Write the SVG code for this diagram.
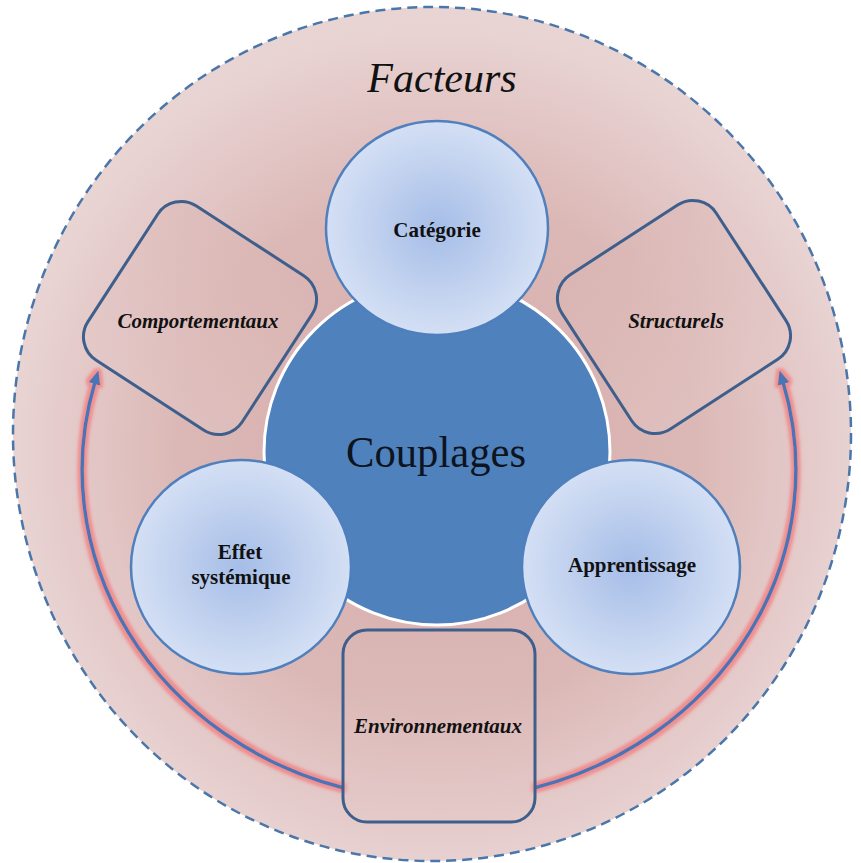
<svg xmlns="http://www.w3.org/2000/svg" width="861" height="863" viewBox="0 0 861 863">
<defs>
<radialGradient id="bg" gradientUnits="userSpaceOnUse" cx="437" cy="452" r="430">
<stop offset="0" stop-color="#d5acaa"/>
<stop offset="0.6" stop-color="#dbb8b6"/>
<stop offset="1" stop-color="#e9d4d4"/>
</radialGradient>
<radialGradient id="bubble" cx="0.5" cy="0.5" r="0.5">
<stop offset="0" stop-color="#a5bde8"/>
<stop offset="0.6" stop-color="#c2d2ef"/>
<stop offset="1" stop-color="#d3dff4"/>
</radialGradient>
<linearGradient id="boxfill" x1="0" y1="0" x2="0" y2="1">
<stop offset="0" stop-color="#d9b4b2"/>
<stop offset="1" stop-color="#e4c9c8"/>
</linearGradient>
<filter id="glow" x="-10%" y="-10%" width="120%" height="120%">
<feMorphology in="SourceAlpha" operator="dilate" radius="2.5" result="d"/>
<feGaussianBlur in="d" stdDeviation="1.6" result="b"/>
<feFlood flood-color="#f08c8c" flood-opacity="0.95"/>
<feComposite in2="b" operator="in" result="g"/>
<feMerge><feMergeNode in="g"/><feMergeNode in="SourceGraphic"/></feMerge>
</filter>
<marker id="head" markerUnits="userSpaceOnUse" viewBox="0 0 14 12" markerWidth="14" markerHeight="12" refX="2" refY="6" orient="auto">
<path d="M0,0 L14,6 L0,12 z" fill="#4a74b5"/>
</marker>
</defs>
<style>
.bubble{fill:url(#bubble);stroke:#4f7fbd;stroke-width:2.5}
.frame{fill:url(#boxfill);fill-opacity:0.45;stroke:#3e5f8c;stroke-width:3}
.lbl{font-family:"Liberation Serif","Times New Roman",serif;font-weight:bold;font-size:21px;fill:#111;text-anchor:middle}
.ital{font-family:"Liberation Serif","Times New Roman",serif;font-weight:bold;font-style:italic;font-size:21px;fill:#111;text-anchor:middle}
.arc{fill:none;stroke:#4a74b5;stroke-width:3.5;marker-end:url(#head)}
</style>

<g id="outer">
<ellipse cx="432" cy="434" rx="419" ry="427" fill="url(#bg)" stroke="#4b76aa" stroke-width="2.5" stroke-dasharray="10 6"/>
<text x="442" y="92" font-family="'Liberation Serif','Times New Roman',serif" font-style="italic" font-size="42" fill="#111" text-anchor="middle">Facteurs</text>
</g>

<g id="connectors" filter="url(#glow)">
<path class="arc" d="M 344 788 A 357 330 0 0 1 95 382"/>
<path class="arc" d="M 534 788 A 357 330 0 0 0 783 382"/>
</g>

<g id="couplages">
<circle cx="437" cy="452" r="173" fill="#4f81bd" stroke="#ffffff" stroke-width="3"/>
<text x="436" y="467" font-family="'Liberation Serif','Times New Roman',serif" font-size="44" fill="#0d1420" text-anchor="middle" textLength="180" lengthAdjust="spacingAndGlyphs">Couplages</text>
</g>

<g id="categorie">
<ellipse class="bubble" cx="437" cy="228" rx="111" ry="107"/>
<text class="lbl" x="437" y="237">Catégorie</text>
</g>

<g id="effet">
<ellipse class="bubble" cx="241" cy="567" rx="110" ry="107"/>
<text class="lbl" x="240" y="559">Effet</text>
<text class="lbl" x="241" y="584">systémique</text>
</g>

<g id="apprentissage">
<ellipse class="bubble" cx="631" cy="567" rx="109" ry="107"/>
<text class="lbl" x="632" y="572">Apprentissage</text>
</g>

<g id="comportementaux">
<rect class="frame" x="-92" y="-92" width="184" height="184" rx="28" transform="translate(200,318) rotate(33)"/>
<text class="ital" x="198" y="328">Comportementaux</text>
</g>

<g id="structurels">
<rect class="frame" x="-92" y="-92" width="184" height="184" rx="28" transform="translate(674,317) rotate(-33)"/>
<text class="ital" x="676" y="328">Structurels</text>
</g>

<g id="environnementaux">
<rect class="frame" x="343" y="630" width="192" height="192" rx="24" fill-opacity="1" stroke-width="2.5"/>
<text class="ital" x="438" y="733">Environnementaux</text>
</g>
</svg>
